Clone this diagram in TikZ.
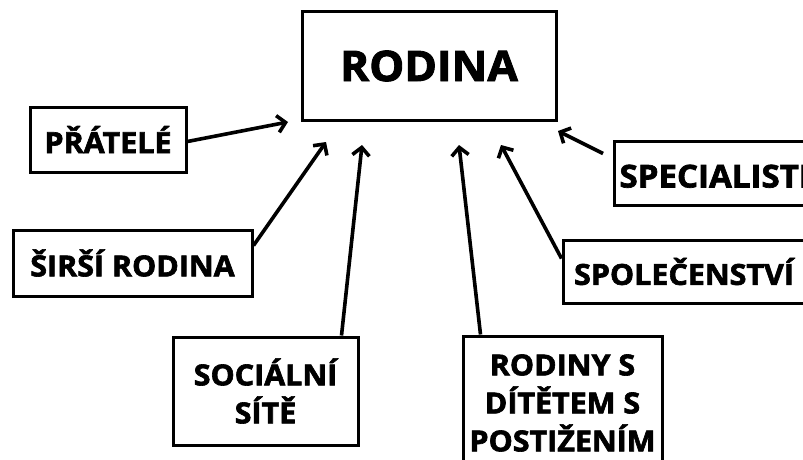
\documentclass[tikz,border=0pt]{standalone}
\usepackage{fontspec}
\setmainfont{Open Sans}[BoldFeatures={FakeBold=2.2,FakeStretch=1.05}]
\usetikzlibrary{arrows.meta}
\tikzset{
    box/.style={draw,line width=3pt,align=center,inner sep=0pt,
        font=\bfseries\fontsize{29}{38}\selectfont},
    link/.style={line width=3.6pt,
        -{Straight Barb[length=8pt,width=17pt,line width=3.6pt]}}
}
\begin{document}
\begin{tikzpicture}[x=1pt,y=-1pt]
        \useasboundingbox (0,0) rectangle (803,460);
        \node[box,minimum width=254pt,minimum height=108pt,
            font=\bfseries\fontsize{42}{50}\selectfont] (rodina) at (429,66) {RODINA};
        %% boxes round it
        \node[box,minimum width=156pt,minimum height=65pt] (pratele) at (108,139.5) {PŘÁTELÉ};
        \node[box,minimum width=239pt,minimum height=66pt] (sirsi) at (132.5,263) {ŠIRŠÍ RODINA};
        \node[box,minimum width=185pt,minimum height=108pt] (socialni) at (265.5,391) {SOCIÁLNÍ\\SÍTĚ};
        \node[box,minimum width=199pt,minimum height=134pt] (rodiny) at (562.5,403) {RODINY S\\DÍTĚTEM S\\POSTIŽENÍM};
        \node[box,minimum width=242pt,minimum height=63pt] (spolecenstvi) at (684,271.5) {SPOLEČENSTVÍ};
        \node[box,anchor=west,inner xsep=5pt,minimum height=64pt,
            font=\bfseries\fontsize{31.5}{40}\selectfont] (specialiste) at (613,173) {SPECIALISTÉ};
        %% arrow tips
        \coordinate (t1) at (288,122);
        \coordinate (t2) at (326,142);
        \coordinate (t3) at (362,145);
        \coordinate (t4) at (459,145);
        \coordinate (t5) at (501,145);
        \coordinate (t6) at (558,131);
        \draw[link] ([yshift=-2pt]pratele.east) -- (t1);
        \draw[link] ([yshift=-17pt]sirsi.north east) -- (t2);
        \draw[link] ([xshift=-18pt]socialni.north east) -- (t3);
        \draw[link] ([xshift=19pt]rodiny.north west) -- (t4);
        \draw[link] ([yshift=-20pt]spolecenstvi.north west) -- (t5);
        \draw[link] ([xshift=-10pt,yshift=-14pt]specialiste.north west) -- (t6);
    \end{tikzpicture}
\end{document}
